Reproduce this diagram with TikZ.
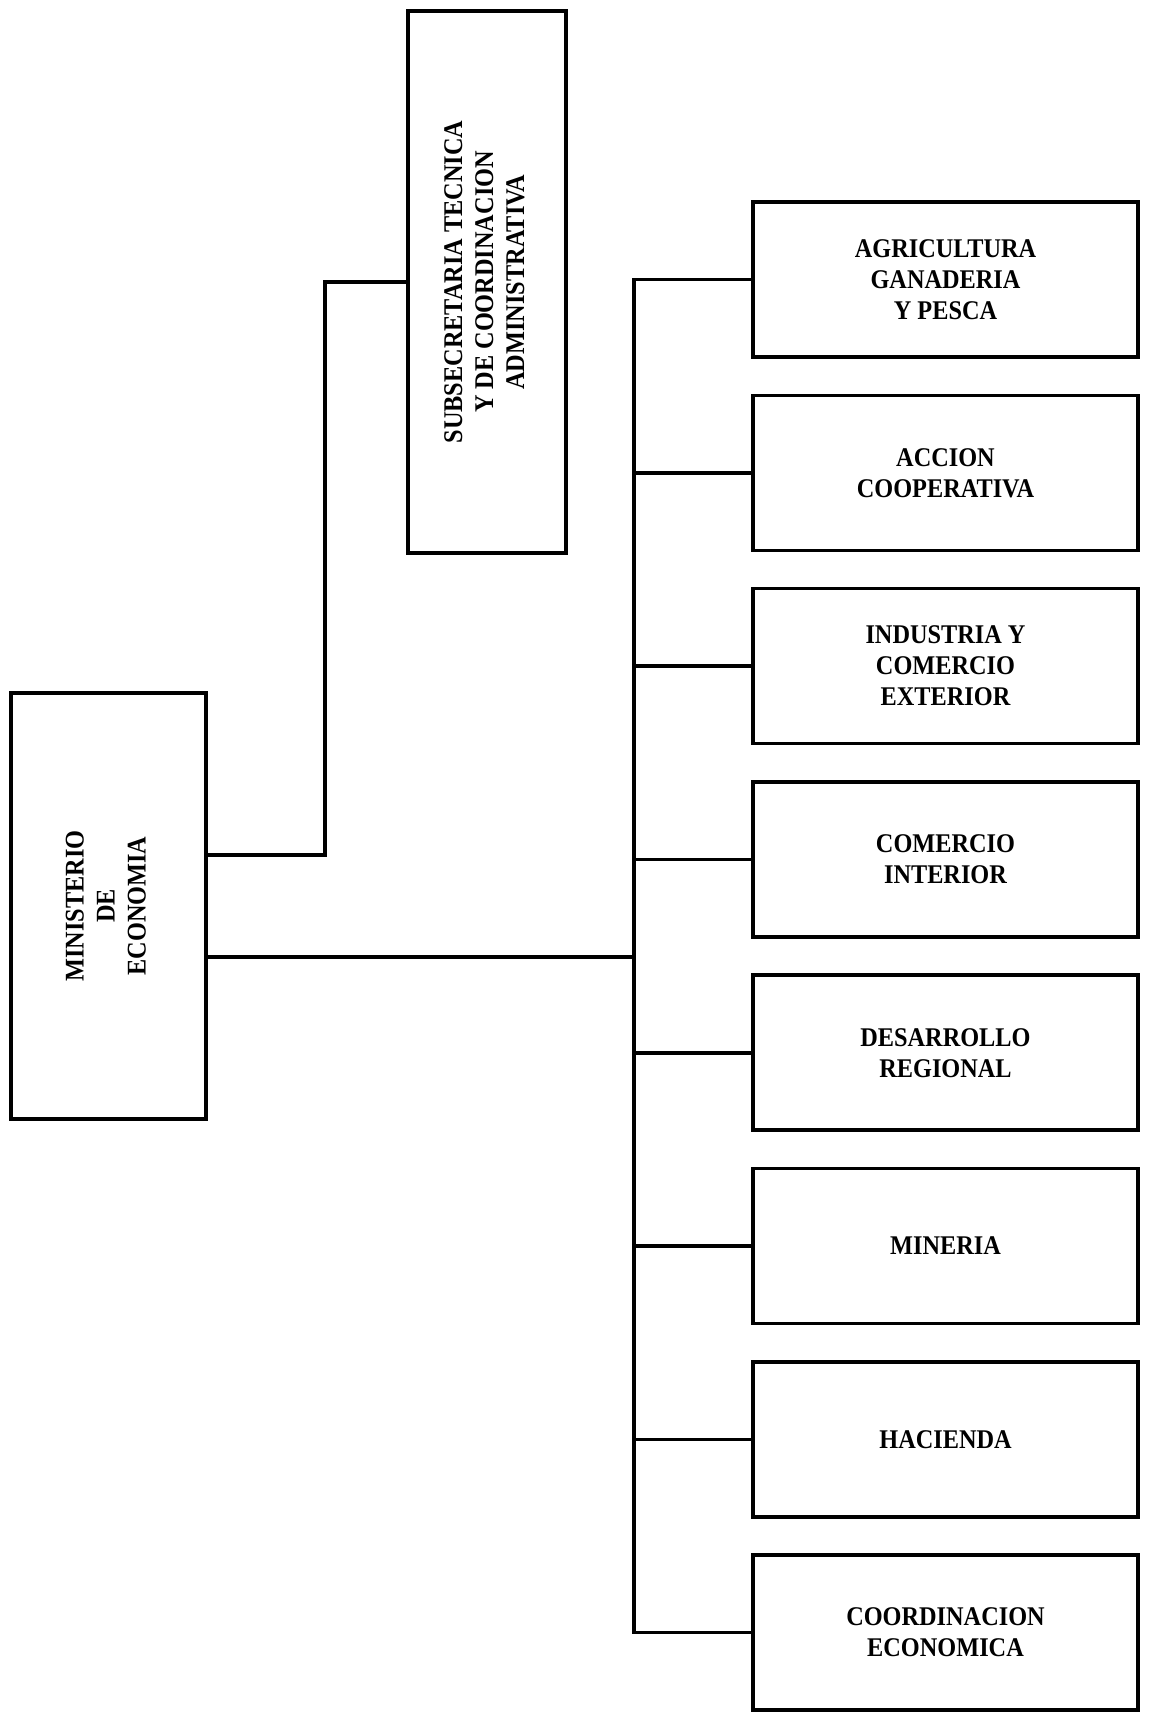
\documentclass[tikz,border=0pt]{standalone}
\usepackage{fontspec}
\usepackage{graphicx}
\newfontfamily\orgfont{Liberation Serif}[FakeStretch=0.9]
\begin{document}
\begin{tikzpicture}[x=0.5pt,y=-0.5pt, %Escala: 1 unidade = 1 pixel da figura
	caixa/.style={draw, line width=1.8pt, align=center, inner sep=0pt, font=\orgfont\bfseries\fontsize{13.5}{15.5}\selectfont},
	setor/.style={caixa, minimum width=192.5pt, minimum height=77.5pt},
	linha/.style={line width=1.8pt}]
	\useasboundingbox (0,0) rectangle (1150,1714); %Margens
		%Caixas
	\node[caixa, minimum width=97.5pt, minimum height=213pt] (ministerio) at (108.5,906) {\rotatebox{90}{\bfseries\begin{tabular}{@{}c@{}}MINISTERIO\\DE\\ECONOMIA\end{tabular}}}; %Ministerio
	\node[caixa, minimum width=79pt, minimum height=271pt] (subsecretaria) at (487,282) {\rotatebox{90}{\bfseries\begin{tabular}{@{}c@{}}SUBSECRETARIA TECNICA\\Y DE COORDINACION\\ADMINISTRATIVA\end{tabular}}}; %Subsecretaria
	\node[setor] (agricultura) at (945.5,279.5) {AGRICULTURA\\GANADERIA\\Y PESCA};
	\node[setor] (accion) at (945.5,472.8) {ACCION\\COOPERATIVA};
	\node[setor] (industria) at (945.5,666.1) {INDUSTRIA Y\\COMERCIO\\EXTERIOR};
	\node[setor] (comercio) at (945.5,859.4) {COMERCIO\\INTERIOR};
	\node[setor] (desarrollo) at (945.5,1052.7) {DESARROLLO\\REGIONAL};
	\node[setor] (mineria) at (945.5,1246) {MINERIA};
	\node[setor] (hacienda) at (945.5,1439.3) {HACIENDA};
	\node[setor] (coordinacion) at (945.5,1632.6) {COORDINACION\\ECONOMICA};
		%Ligacoes
	\coordinate (dobra) at (325,282); %Canto da linha da subsecretaria
	\coordinate (topo) at (634,279.5); %Topo da barra vertical
	\coordinate (base) at (634,1632.6); %Base da barra vertical
	\draw[linha] ([yshift=25.5pt]ministerio.east) -| (dobra) -- (subsecretaria.west);
	\draw[linha] ([yshift=-25.5pt]ministerio.east) -- ([yshift=-25.5pt]ministerio.east -| topo);
	\draw[linha] (agricultura.west) -- (topo) -- (base) -- (coordinacion.west); %Barra vertical
	\draw[linha] (accion.west) -- (accion.west -| topo);
	\draw[linha] (industria.west) -- (industria.west -| topo);
	\draw[linha] (comercio.west) -- (comercio.west -| topo);
	\draw[linha] (desarrollo.west) -- (desarrollo.west -| topo);
	\draw[linha] (mineria.west) -- (mineria.west -| topo);
	\draw[linha] (hacienda.west) -- (hacienda.west -| topo);
\end{tikzpicture}
\end{document}
